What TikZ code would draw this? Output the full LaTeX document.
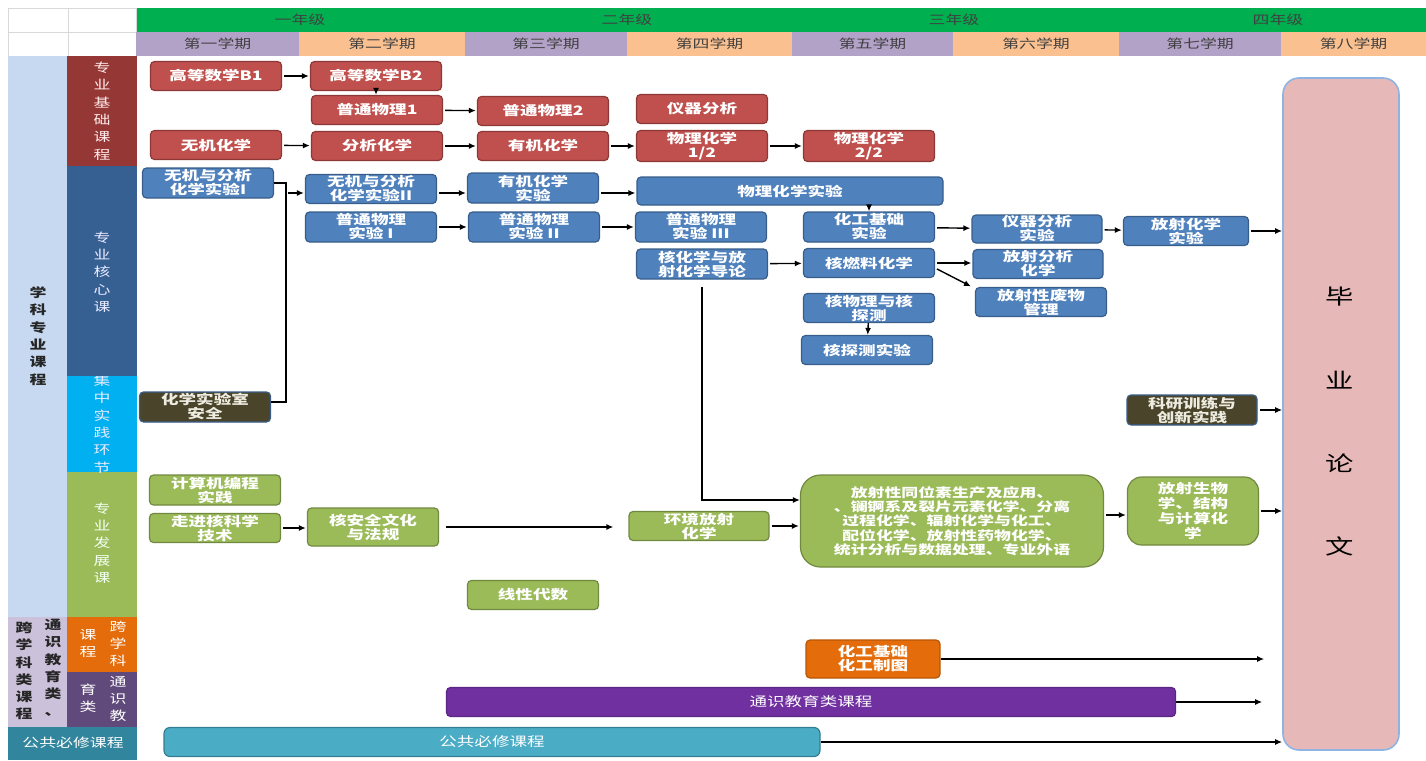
\documentclass[tikz,border=0pt]{standalone}
\usepackage{fontspec}
\setmainfont{Noto Sans CJK SC}
\newfontfamily\kcfont{Noto Sans CJK SC}[FakeStretch=1.35]
\usetikzlibrary{arrows.meta}

\definecolor{nianji}{HTML}{00B050}
\definecolor{xqzi}{HTML}{B3A2C7}
\definecolor{xqcheng}{HTML}{FAC090}
\definecolor{xklan}{HTML}{C6D9F1}
\definecolor{jchong}{HTML}{953735}
\definecolor{hxlan}{HTML}{376092}
\definecolor{sjqing}{HTML}{00B0F0}
\definecolor{fzlv}{HTML}{9BBB59}
\definecolor{kxzi}{HTML}{CCC1DA}
\definecolor{kxcheng}{HTML}{E46C0A}
\definecolor{tszi}{HTML}{604A7B}
\definecolor{ggqing}{HTML}{31859C}
\definecolor{hong}{HTML}{C0504D}
\definecolor{hongbian}{HTML}{8C3836}
\definecolor{lan}{HTML}{4F81BD}
\definecolor{lanbian}{HTML}{385D8A}
\definecolor{lv}{HTML}{9BBB59}
\definecolor{lvbian}{HTML}{71893F}
\definecolor{zong}{HTML}{4A452A}
\definecolor{zongzi}{HTML}{EEECE1}
\definecolor{cheng}{HTML}{E46C0A}
\definecolor{chengbian}{HTML}{B65708}
\definecolor{zi}{HTML}{7030A0}
\definecolor{zibian}{HTML}{5C2684}
\definecolor{qing}{HTML}{4BACC6}
\definecolor{qingbian}{HTML}{357D91}
\definecolor{fen}{HTML}{E6B9B8}
\definecolor{fenbian}{HTML}{8EB4E3}

\begin{document}
\begin{tikzpicture}[x=1pt, y=-1pt, >={Latex[length=7pt,width=6pt]},
  ke/.style={rounded corners=4pt, line width=1.2pt, text=white, align=center,
    inner sep=0pt, minimum width=131pt, minimum height=29pt,
    font=\kcfont\bfseries\fontsize{13}{14}\selectfont},
  hongke/.style={ke, fill=hong, draw=hongbian},
  lanke/.style={ke, fill=lan, draw=lanbian},
  zongke/.style={ke, fill=zong, draw=lanbian, text=zongzi},
  lvke/.style={ke, fill=lv, draw=lvbian},
  lianxian/.style={->, line width=1.4pt, shorten >=1pt, shorten <=2pt},
  cuxian/.style={->, line width=1.9pt},
  shuzi/.style={align=center, inner sep=0pt, font=\kcfont\fontsize{12.5}{17.3}\selectfont},
  shuzicu/.style={shuzi, text=black!85, font=\kcfont\bfseries\fontsize{12.5}{17.3}\selectfont},
  biaotou/.style={font=\kcfont\fontsize{12.5}{14}\selectfont, text=black!75}]
\useasboundingbox (0,0) rectangle (1426,760);

% header
\fill[nianji] (136,8) rectangle (1426,32);
\draw[black!15] (8,8) rectangle (68,32) (68,8) rectangle (136,32)
  (8,32) rectangle (68,56) (68,32) rectangle (136,56);
\node[biaotou] (nj1) at (300,20) {一年级};
\node[biaotou] (nj2) at (627,20) {二年级};
\node[biaotou] (nj3) at (954,20) {三年级};
\node[biaotou] (nj4) at (1278,20) {四年级};
\foreach \xa/\xb/\se/\mc [count=\i] in {136/299/xqzi/第一学期, 299/465/xqcheng/第二学期,
  465/627/xqzi/第三学期, 627/792/xqcheng/第四学期, 792/953/xqzi/第五学期,
  953/1119/xqcheng/第六学期, 1119/1281/xqzi/第七学期, 1281/1426/xqcheng/第八学期}
{
  \fill[\se] (\xa,32) rectangle (\xb,56);
  \node[biaotou] (xq\i) at ({(\xa+\xb)/2},44) {\mc};
}

% left columns
\fill[xklan] (8,56) rectangle (67,617);
\fill[jchong] (67,56) rectangle (137,166);
\fill[hxlan] (67,166) rectangle (137,376);
\fill[sjqing] (67,376) rectangle (137,472);
\fill[fzlv] (67,472) rectangle (137,617);
\fill[kxzi] (8,617) rectangle (67,727);
\fill[kxcheng] (67,617) rectangle (137,672);
\fill[tszi] (67,672) rectangle (137,727);
\fill[ggqing] (8,727) rectangle (137,760);

\node[shuzicu] (xkzy) at (38,336) {学\\科\\专\\业\\课\\程};
\node[shuzi, text=red!8] (zyjc) at (102,111) {专\\业\\基\\础\\课\\程};
\node[shuzi, text=blue!8] (zyhx) at (102,272) {专\\业\\核\\心\\课};
\begin{scope}
\clip (67,376) rectangle (137,472);
\node[shuzi, text=blue!8] (jzsj) at (102,424) {集\\中\\实\\践\\环\\节};
\end{scope}
\node[shuzi, text=green!5] (zyfz) at (102,543) {专\\业\\发\\展\\课};
\node[shuzicu] (kxkc) at (24,671) {跨\\学\\科\\类\\课\\程};
\node[shuzicu] (tsjl) at (53,668) {通\\识\\教\\育\\类\\、};
\node[shuzi, text=white] (kc) at (88,643) {课\\程};
\node[shuzi, text=white] (kxk) at (118,644) {跨\\学\\科};
\node[shuzi, text=white] (yl) at (88,698) {育\\类};
\node[shuzi, text=white] (tsj) at (118,699) {通\\识\\教};
\node[biaotou, text=white] (ggbxl) at (73,743) {公共必修课程};

% zhuanye jichu
\node[hongke] (gs1) at (216,76) {高等数学B1};
\node[hongke] (gs2) at (376,76) {高等数学B2};
\node[hongke] (wl1) at (377,110) {普通物理1};
\node[hongke] (wl2) at (543,111) {普通物理2};
\node[hongke] (yqfx) at (702,109) {仪器分析};
\node[hongke] (wjhx) at (216,145) {无机化学};
\node[hongke] (fxhx) at (377,146) {分析化学};
\node[hongke] (yjhx) at (543,146) {有机化学};
\node[hongke, minimum height=31pt] (wh1) at (702,146) {物理化学\\1/2};
\node[hongke, minimum height=31pt] (wh2) at (869,146) {物理化学\\2/2};

% zhuanye hexin
\node[lanke, minimum height=30pt] (wf1) at (208,183) {无机与分析\\化学实验I};
\node[lanke] (wf2) at (371,189) {无机与分析\\化学实验II};
\node[lanke, minimum height=30pt] (pw1) at (371,227) {普通物理\\实验 I};
\node[lanke, minimum height=30pt] (yjsy) at (533,188) {有机化学\\实验};
\node[lanke, minimum height=30pt] (pw2) at (534,227) {普通物理\\实验 II};
\node[lanke, minimum width=306pt, minimum height=28pt] (whsy) at (790,191) {物理化学实验};
\node[lanke, minimum height=30pt] (pw3) at (701,227) {普通物理\\实验 III};
\node[lanke, minimum height=30pt] (hhx) at (702,264) {核化学与放\\射化学导论};
\node[lanke, minimum height=30pt] (hgsy) at (869,227) {化工基础\\实验};
\node[lanke] (hrl) at (869,263) {核燃料化学};
\node[lanke] (hwl) at (869,308) {核物理与核\\探测};
\node[lanke] (htc) at (867,350) {核探测实验};
\node[lanke, minimum width=130pt, minimum height=28pt] (yqsy) at (1037,229) {仪器分析\\实验};
\node[lanke, minimum width=130pt] (fsfx) at (1038,264) {放射分析\\化学};
\node[lanke] (fsfw) at (1041,302) {放射性废物\\管理};
\node[lanke, minimum width=125pt] (fshsy) at (1186,231) {放射化学\\实验};

% jizhong shijian
\node[zongke, minimum height=30pt] (aq) at (205,407) {化学实验室\\安全};
\node[zongke, minimum width=130pt, minimum height=30pt] (ky) at (1192,410) {科研训练与\\创新实践};

% zhuanye fazhan
\node[lvke, minimum height=30pt] (jsj) at (215,490) {计算机编程\\实践};
\node[lvke] (zj) at (215,528) {走进核科学\\技术};
\node[lvke, minimum height=38pt] (haq) at (373,527) {核安全文化\\与法规};
\node[lvke, minimum width=140pt] (hj) at (699,526) {环境放射\\化学};
\node[lvke, rounded corners=20pt, minimum width=303pt, minimum height=92pt,
  font=\kcfont\bfseries\fontsize{12.5}{14.4}\selectfont] (dalv) at (952,521)
  {放射性同位素生产及应用、\\、镧锕系及裂片元素化学、分离\\过程化学、辐射化学与化工、\\配位化学、放射性药物化学、\\统计分析与数据处理、专业外语};
\node[lvke, rounded corners=14pt, minimum height=68pt,
  font=\kcfont\bfseries\fontsize{13}{15}\selectfont] (fssw) at (1193,511) {放射生物\\学、结构\\与计算化\\学};
\node[lvke] (xxds) at (533,595) {线性代数};

% kua xueke, tongshi, gonggong
\node[ke, fill=cheng, draw=chengbian, minimum width=134pt, minimum height=38pt] (hgzt) at (873,659) {化工基础\\化工制图};
\node[ke, fill=zi, draw=zibian, minimum width=729pt, font=\kcfont\fontsize{13}{14}\selectfont] (tsjy) at (811,702) {通识教育类课程};
\node[ke, fill=qing, draw=qingbian, minimum width=656pt, rounded corners=6pt, font=\kcfont\fontsize{13}{14}\selectfont] (ggbx) at (492,742) {公共必修课程};

% biye lunwen
\node[draw=fenbian, fill=fen, line width=1.6pt, rounded corners=16pt,
  minimum width=116pt, minimum height=672pt] (lw) at (1341,414) {};
\foreach \zi [count=\i] in {毕,业,论,文}
  \node[font=\kcfont\fontsize{21}{21}\selectfont] (lw\i) at (1340,214+83*\i) {\zi};

% connectors
\draw[lianxian] (gs1) -- (gs2);
\draw[lianxian, shorten <=0pt, shorten >=0pt] (gs2.south) -- (gs2.south |- wl1.north);
\draw[lianxian] (wl1) -- (wl2);
\draw[lianxian] (wjhx) -- (fxhx);
\draw[lianxian] (fxhx) -- (yjhx);
\draw[lianxian] (yjhx) -- (wh1);
\draw[lianxian] (wh1) -- (wh2);

\coordinate (zhe) at (286,193);
\draw[line width=1.6pt] (wf1.east) -- (wf1.east -| zhe) -- ([yshift=5pt]aq.east -| zhe) -- ([yshift=5pt]aq.east);
\draw[lianxian] (zhe) -- (zhe -| wf2.west);
\draw[lianxian] ([yshift=-4pt]wf2.east) -- ([yshift=-4pt]wf2.east -| yjsy.west);
\draw[lianxian] (pw1) -- (pw2);
\draw[lianxian] ([yshift=-5pt]yjsy.east) -- ([yshift=-5pt]yjsy.east -| whsy.west);
\draw[lianxian] (pw2) -- (pw3);
\draw[lianxian, shorten <=0pt, shorten >=0pt] (whsy.south -| hgsy) -- (hgsy.north);
\draw[lianxian] (hhx) -- (hrl);
\draw[lianxian] (hgsy) -- (yqsy);
\draw[lianxian] (yqsy) -- (fshsy);
\draw[lianxian, shorten >=0pt] (fshsy.east) -- (fshsy.east -| lw.west);
\draw[lianxian] (hrl.east) -- (hrl.east -| fsfx.west);
\draw[lianxian] ([yshift=-5pt]hrl.east) -- ([xshift=-3pt]fsfw.north west);
\draw[lianxian, shorten <=0pt, shorten >=0pt] (hwl) -- (htc);
\draw[cuxian, shorten <=7pt] (hhx.south) |- ([yshift=21pt]dalv.west);
\draw[lianxian, shorten >=0pt] (ky.east) -- (ky.east -| lw.west);

\draw[lianxian] (zj) -- (zj -| haq.west);
\draw[lianxian, shorten <=7pt, shorten >=15pt] (haq.east) -- (haq.east -| hj.west);
\draw[lianxian] (hj.east) -- (hj.east -| dalv.west);
\draw[lianxian] ([yshift=6pt]dalv.east) -- ([yshift=6pt]dalv.east -| fssw.west);
\draw[lianxian, shorten >=0pt] (fssw.east) -- (fssw.east -| lw.west);
\draw[cuxian, shorten >=18pt] (hgzt.east) -- (hgzt.east -| lw.west);
\draw[cuxian, shorten >=20pt] (tsjy.east) -- (tsjy.east -| lw.west);
\draw[cuxian] (ggbx.east) -- (ggbx.east -| lw.west);
\end{tikzpicture}
\end{document}
